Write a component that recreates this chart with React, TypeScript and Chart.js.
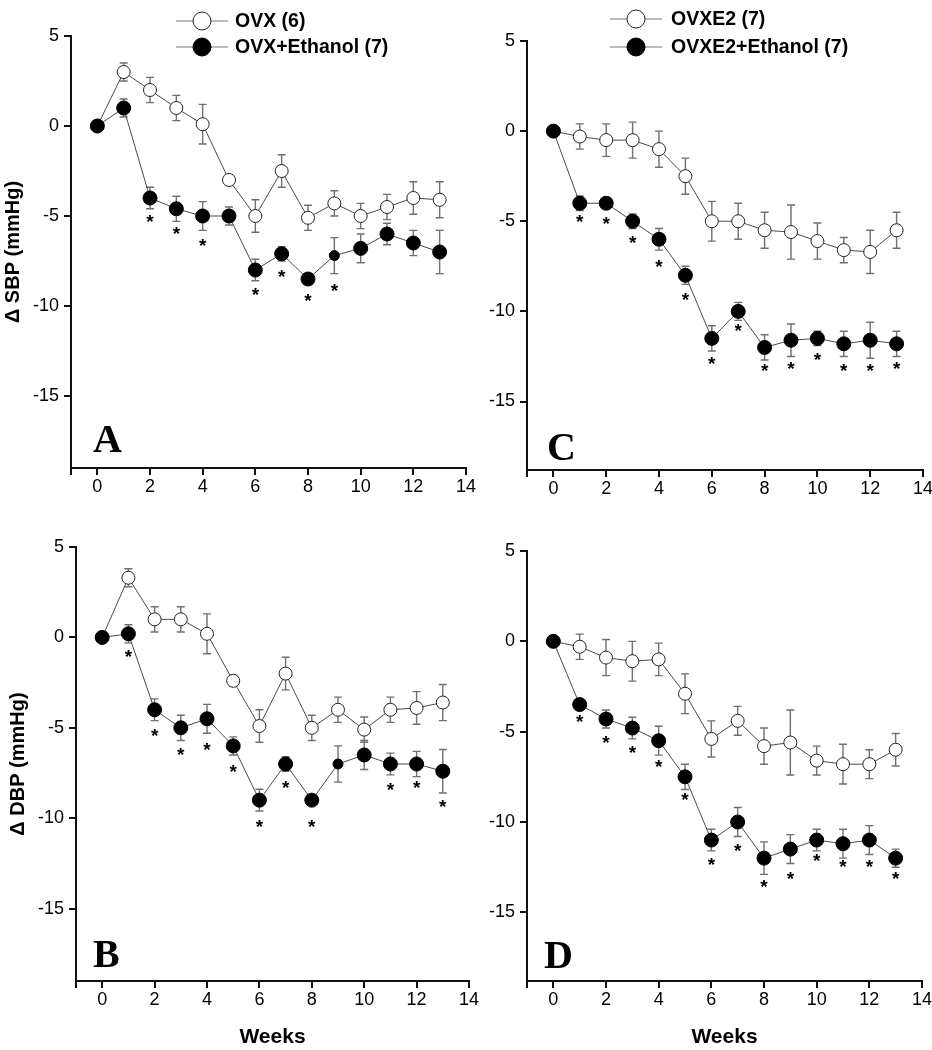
import React, { useEffect, useRef } from 'react';
import { Chart, registerables } from 'chart.js';

Chart.register(...registerables);

// ---------- data ----------
const weeks = [0, 1, 2, 3, 4, 5, 6, 7, 8, 9, 10, 11, 12, 13];
const xTickValues = [-1, 0, 2, 4, 6, 8, 10, 12, 14];
const yTickValues = [5, 0, -5, -10, -15];

// Panel A: delta SBP, OVX groups
const ovxSBP = [0, 3.0, 2.0, 1.0, 0.1, -3.0, -5.0, -2.5, -5.1, -4.3, -5.0, -4.5, -4.0, -4.1];
const ovxSBPErr = [0, 0.5, 0.7, 0.7, 1.1, 0.3, 0.9, 0.9, 0.7, 0.7, 0.7, 0.7, 0.9, 1.0];
const ovxEthSBP = [0, 1.0, -4.0, -4.6, -5.0, -5.0, -8.0, -7.1, -8.5, -7.2, -6.8, -6.0, -6.5, -7.0];
const ovxEthSBPErr = [0, 0.5, 0.6, 0.7, 0.8, 0.5, 0.6, 0.4, 0.3, 1.0, 0.8, 0.6, 0.7, 1.2];
const starsA = [null, null, -5.17, -5.82, -6.5, null, -9.2, -8.2, -9.55, -9.0, null, null, null, null];

// Panel B: delta DBP, OVX groups
const ovxDBP = [0, 3.3, 1.0, 1.0, 0.2, -2.4, -4.9, -2.0, -5.0, -4.0, -5.1, -4.0, -3.9, -3.6];
const ovxDBPErr = [0, 0.5, 0.7, 0.7, 1.1, 0.3, 0.9, 0.9, 0.7, 0.7, 0.7, 0.7, 0.9, 1.0];
const ovxEthDBP = [0, 0.2, -4.0, -5.0, -4.5, -6.0, -9.0, -7.0, -9.0, -7.0, -6.5, -7.0, -7.0, -7.4];
const ovxEthDBPErr = [0, 0.5, 0.6, 0.7, 0.8, 0.5, 0.6, 0.4, 0.2, 1.0, 0.8, 0.6, 0.7, 1.2];
const starsB = [null, -0.91, -5.26, -6.31, -6.05, -7.24, -10.3, -8.17, -10.3, null, null, -8.26, -8.17, -9.22];

// Panel C: delta SBP, OVXE2 groups
const ovxe2SBP = [0, -0.3, -0.5, -0.5, -1.0, -2.5, -5.0, -5.0, -5.5, -5.6, -6.1, -6.6, -6.7, -5.5];
const ovxe2SBPErr = [0, 0.7, 0.9, 1.0, 1.0, 1.0, 1.1, 1.0, 1.0, 1.5, 1.0, 0.7, 1.2, 1.0];
const ovxe2EthSBP = [0, -4.0, -4.0, -5.0, -6.0, -8.0, -11.5, -10.0, -12.0, -11.6, -11.5, -11.8, -11.6, -11.8];
const ovxe2EthSBPErr = [0, 0.4, 0.3, 0.4, 0.6, 0.5, 0.7, 0.5, 0.7, 0.9, 0.4, 0.7, 1.0, 0.7];
const starsC = [null, -4.85, -5.0, -6.0, -7.35, -9.2, -12.76, -10.93, -13.15, -13.04, -12.5, -13.15, -13.15, -13.04];

// Panel D: delta DBP, OVXE2 groups
const ovxe2DBP = [0, -0.3, -0.9, -1.1, -1.0, -2.9, -5.4, -4.4, -5.8, -5.6, -6.6, -6.8, -6.8, -6.0];
const ovxe2DBPErr = [0, 0.7, 1.0, 1.1, 0.9, 1.1, 1.0, 0.8, 1.0, 1.8, 0.8, 1.1, 0.8, 0.9];
const ovxe2EthDBP = [0, -3.5, -4.3, -4.8, -5.5, -7.5, -11.0, -10.0, -12.0, -11.5, -11.0, -11.2, -11.0, -12.0];
const ovxe2EthDBPErr = [0, 0.3, 0.5, 0.6, 0.8, 0.7, 0.6, 0.8, 0.9, 0.8, 0.6, 0.8, 0.8, 0.5];
const starsD = [null, -4.28, -5.46, -6.0, -6.8, -8.6, -12.2, -11.4, -13.4, -13.0, -11.96, -12.3, -12.3, -13.0];

const legendOVX = ['OVX (6)', 'OVX+Ethanol (7)'];
const legendOVXE2 = ['OVXE2 (7)', 'OVXE2+Ethanol (7)'];

// ---------- layout / style ----------
const PAGE_W = 932;
const PAGE_H = 1050;
const SANS = '"Liberation Sans", Arial, Helvetica, sans-serif';
const SERIF = '"Liberation Serif", "Times New Roman", serif';
const Y_SCALE_W = 70;

type Panel = {
  open: number[]; openErr: number[];
  filled: number[]; filledErr: number[];
  stars: (number | null)[];
  small: number[];
  area: { left: number; right: number; top: number; bottom: number };
  yMin: number;
  letter: string; letterX: number; letterY: number;
  yTitle?: string; xTitle?: string;
  legend?: { labels: string[]; x1: number; x2: number; rows: number[]; textX: number };
};

const panels: Panel[] = [
  {
    open: ovxSBP, openErr: ovxSBPErr, filled: ovxEthSBP, filledErr: ovxEthSBPErr, stars: starsA, small: [9],
    area: { left: 71, right: 466, top: 36, bottom: 468 }, yMin: -19,
    letter: 'A', letterX: 93, letterY: 452, yTitle: 'Δ SBP (mmHg)',
    legend: { labels: legendOVX, x1: 176, x2: 228, rows: [21, 47], textX: 235 },
  },
  {
    open: ovxe2SBP, openErr: ovxe2SBPErr, filled: ovxe2EthSBP, filledErr: ovxe2EthSBPErr, stars: starsC, small: [],
    area: { left: 527, right: 923, top: 41, bottom: 470 }, yMin: -18.8,
    letter: 'C', letterX: 547, letterY: 460,
    legend: { labels: legendOVXE2, x1: 610, x2: 662, rows: [19, 47], textX: 671 },
  },
  {
    open: ovxDBP, openErr: ovxDBPErr, filled: ovxEthDBP, filledErr: ovxEthDBPErr, stars: starsB, small: [9],
    area: { left: 76, right: 469, top: 547, bottom: 981 }, yMin: -19,
    letter: 'B', letterX: 93, letterY: 967, yTitle: 'Δ DBP (mmHg)', xTitle: 'Weeks',
  },
  {
    open: ovxe2DBP, openErr: ovxe2DBPErr, filled: ovxe2EthDBP, filledErr: ovxe2EthDBPErr, stars: starsD, small: [],
    area: { left: 527, right: 922, top: 551, bottom: 981 }, yMin: -18.8,
    letter: 'D', letterX: 544, letterY: 968, xTitle: 'Weeks',
  },
];

function drawMarker(ctx: CanvasRenderingContext2D, x: number, y: number, r: number, filled: boolean) {
  ctx.beginPath();
  ctx.arc(x, y, r, 0, Math.PI * 2);
  ctx.fillStyle = filled ? '#000' : '#fff';
  ctx.fill();
  ctx.lineWidth = 1;
  ctx.strokeStyle = filled ? '#000' : '#222';
  ctx.stroke();
}

function makeConfig(p: Panel): any {
  const xH = p.xTitle ? 68.6 : 40;
  const panelPlugin = {
    id: 'panelExtras',
    beforeDatasetsDraw(chart: any) {
      const ctx = chart.ctx;
      const xs = chart.scales.x;
      const ys = chart.scales.y;
      ctx.save();
      ctx.strokeStyle = '#707070';
      ctx.lineWidth = 1.4;
      chart.data.datasets.forEach((ds: any) => {
        ds.data.forEach((pt: any, i: number) => {
          const e = ds.errors[i];
          if (!e) return;
          const x = xs.getPixelForValue(pt.x);
          const yTop = ys.getPixelForValue(pt.y + e);
          const yBot = ys.getPixelForValue(pt.y - e);
          ctx.beginPath();
          ctx.moveTo(x, yTop); ctx.lineTo(x, yBot);
          ctx.moveTo(x - 4, yTop); ctx.lineTo(x + 4, yTop);
          ctx.moveTo(x - 4, yBot); ctx.lineTo(x + 4, yBot);
          ctx.stroke();
        });
      });
      ctx.restore();
    },
    afterDraw(chart: any) {
      const ctx = chart.ctx;
      const xs = chart.scales.x;
      const ys = chart.scales.y;
      ctx.save();
      // significance stars
      ctx.fillStyle = '#000';
      ctx.font = `bold 19px ${SANS}`;
      ctx.textAlign = 'center';
      ctx.textBaseline = 'middle';
      p.stars.forEach((s, i) => {
        if (s === null) return;
        ctx.fillText('*', xs.getPixelForValue(weeks[i]), ys.getPixelForValue(s) + 4);
      });
      // panel letter
      ctx.font = `bold 40px ${SERIF}`;
      ctx.textAlign = 'left';
      ctx.textBaseline = 'alphabetic';
      ctx.fillText(p.letter, p.letterX, p.letterY);
      // legend
      if (p.legend) {
        const lg = p.legend;
        lg.rows.forEach((ry, k) => {
          ctx.strokeStyle = '#777';
          ctx.lineWidth = 1.2;
          ctx.beginPath();
          ctx.moveTo(lg.x1, ry); ctx.lineTo(lg.x2, ry);
          ctx.stroke();
          drawMarker(ctx, (lg.x1 + lg.x2) / 2, ry, 9, k === 1);
          ctx.fillStyle = '#000';
          ctx.font = `bold 19.5px ${SANS}`;
          ctx.textAlign = 'left';
          ctx.textBaseline = 'middle';
          ctx.fillText(lg.labels[k], lg.textX, ry + 1);
        });
      }
      ctx.restore();
    },
  };

  const radii = (small: number[]) => weeks.map((_, i) => (small.includes(i) ? 5 : 7));

  return {
    type: 'line',
    data: {
      datasets: [
        {
          label: p.legend ? p.legend.labels[1] : 'Ethanol',
          data: weeks.map((w, i) => ({ x: w, y: p.filled[i] })),
          errors: p.filledErr,
          borderColor: '#4a4a4a',
          borderWidth: 1,
          pointRadius: radii(p.small),
          pointBackgroundColor: '#000',
          pointBorderColor: '#000',
          pointBorderWidth: 1,
          order: 0,
        },
        {
          label: p.legend ? p.legend.labels[0] : 'Control',
          data: weeks.map((w, i) => ({ x: w, y: p.open[i] })),
          errors: p.openErr,
          borderColor: '#4a4a4a',
          borderWidth: 1,
          pointRadius: 6.5,
          pointBackgroundColor: '#fff',
          pointBorderColor: '#222',
          pointBorderWidth: 1,
          order: 1,
        },
      ],
    },
    options: {
      animation: false,
      responsive: false,
      maintainAspectRatio: false,
      events: [],
      layout: {
        padding: {
          left: p.area.left - Y_SCALE_W,
          right: PAGE_W - p.area.right,
          top: p.area.top,
          bottom: PAGE_H - p.area.bottom - xH,
        },
      },
      plugins: { legend: { display: false }, tooltip: { enabled: false }, title: { display: false } },
      scales: {
        x: {
          type: 'linear',
          min: -1,
          max: 14,
          afterBuildTicks: (s: any) => { s.ticks = xTickValues.map((v) => ({ value: v })); },
          afterFit: (s: any) => { s.height = xH; s.paddingLeft = 0; s.paddingRight = 0; },
          ticks: {
            autoSkip: false,
            maxRotation: 0,
            color: '#000',
            padding: 1,
            font: { family: SANS, size: 18 },
            callback: (v: any) => (Number(v) < 0 ? '' : String(v)),
          },
          grid: { drawOnChartArea: false, drawTicks: true, tickLength: 7, color: '#111', lineWidth: 2 },
          border: { display: true, color: '#111', width: 2 },
          title: {
            display: !!p.xTitle,
            text: p.xTitle || '',
            color: '#000',
            padding: 0,
            font: { family: SANS, size: 21, weight: 'bold' },
          },
        },
        y: {
          type: 'linear',
          min: p.yMin,
          max: 5,
          afterBuildTicks: (s: any) => { s.ticks = yTickValues.map((v) => ({ value: v })); },
          afterFit: (s: any) => { s.width = Y_SCALE_W; s.paddingTop = 0; s.paddingBottom = 0; },
          ticks: {
            autoSkip: false,
            color: '#000',
            padding: 5,
            font: { family: SANS, size: 18 },
            callback: (v: any) => String(v),
          },
          grid: { drawOnChartArea: false, drawTicks: true, tickLength: 7, color: '#111', lineWidth: 2 },
          border: { display: true, color: '#111', width: 2 },
          title: {
            display: !!p.yTitle,
            text: p.yTitle || '',
            color: '#000',
            padding: 0,
            font: { family: SANS, size: 20, weight: 'bold' },
          },
        },
      },
    },
    plugins: [panelPlugin],
  };
}

function PanelCanvas({ panel }: { panel: Panel }) {
  const ref = useRef<HTMLCanvasElement | null>(null);
  useEffect(() => {
    if (!ref.current) return;
    const chart = new Chart(ref.current, makeConfig(panel));
    return () => chart.destroy();
  }, [panel]);
  return (
    <canvas
      ref={ref}
      width={PAGE_W}
      height={PAGE_H}
      style={{ position: 'absolute', left: 0, top: 0, width: PAGE_W, height: PAGE_H }}
    />
  );
}

export default function App() {
  return (
    <div
      style={{
        position: 'absolute',
        left: 0,
        top: 0,
        width: PAGE_W,
        height: PAGE_H,
        background: '#fff',
        overflow: 'hidden',
      }}
    >
      {panels.map((p, i) => (
        <PanelCanvas key={i} panel={p} />
      ))}
    </div>
  );
}
